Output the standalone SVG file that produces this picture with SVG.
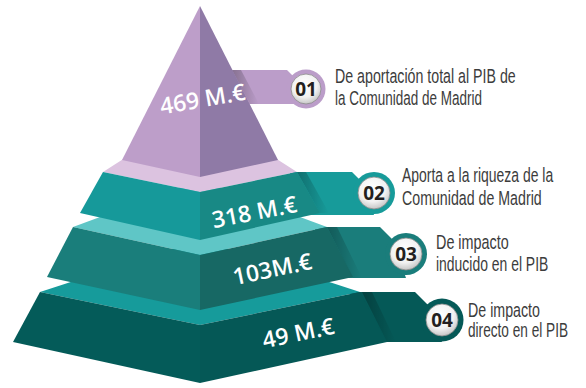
<svg xmlns="http://www.w3.org/2000/svg" width="586" height="388" viewBox="0 0 586 388">
<defs>
<radialGradient id="btn" cx="0.45" cy="0.35" r="0.7">
<stop offset="0" stop-color="#ffffff"/>
<stop offset="0.6" stop-color="#f2f2f2"/>
<stop offset="1" stop-color="#bdbdbd"/>
</radialGradient>
<linearGradient id="shade" x1="0" y1="0" x2="1" y2="0">
<stop offset="0" stop-color="#000" stop-opacity="0.28"/>
<stop offset="1" stop-color="#000" stop-opacity="0"/>
</linearGradient>
</defs>
<style>
.val{font-family:"Open Sans","Liberation Sans",sans-serif;font-weight:600;font-size:23px;fill:#ffffff;text-anchor:middle}
.num{font-family:"Open Sans","Liberation Sans",sans-serif;font-weight:700;font-size:19px;fill:#231f20;text-anchor:middle}
.lbl{font-family:"Liberation Sans","DejaVu Sans",sans-serif;font-size:19.5px;fill:#3c3c3c}
.inner{fill:url(#btn);stroke:#8a8a8a;stroke-width:0.8}
.sh{fill:url(#shade)}
</style>

<g id="connectors">
<polygon points="350,292 415,292 428,305 442,342 350,342" fill="#055957"/>
<polygon points="362,292 372,292 396,342 387,342" class="sh"/>
<polygon points="315,227 380,227 393,240 406,278 315,278" fill="#1a7d7b"/>
<polygon points="327,227 337,227 362,278 353,278" class="sh"/>
<polygon points="290,172 352,172 364,184 374,215 290,215" fill="#179b9a"/>
<polygon points="297,172 306,172 329,213 320,213" class="sh"/>
<polygon points="222,70 287,70 297,80 306,104 222,104" fill="#bb9dc9"/>
<polygon points="232,70 241,70 259,104 250,104" class="sh"/>
</g>

<g id="tier4">
<polygon points="40,292 200,240 360,292 200,325" fill="#169b9b"/>
<polygon points="40,292 200,325 200,383 13,342" fill="#045b59"/>
<polygon points="200,325 360,292 387,342 200,383" fill="#055856"/>
<text class="val" transform="translate(300,341) rotate(-12)">49 M.€</text>
</g>

<g id="tier3">
<polygon points="73,227 200,180 327,227 200,255" fill="#5fc6c6"/>
<polygon points="73,227 200,255 200,310 47,277" fill="#1a7e7b"/>
<polygon points="200,255 327,227 353,277 200,310" fill="#176864"/>
<text class="val" transform="translate(274,277) rotate(-12)">103M.€</text>
</g>

<g id="tier2">
<polygon points="103,172 200,110 297,172 200,192" fill="#dcc3e0"/>
<polygon points="103,172 200,192 200,240 80,213" fill="#16999a"/>
<polygon points="200,192 297,172 320,213 200,240" fill="#188985"/>
<text class="val" transform="translate(256,220) rotate(-11)">318 M.€</text>
</g>

<g id="tier1">
<polygon points="200,6 122,160 200,177" fill="#bd9ec9"/>
<polygon points="200,6 200,177 278,160" fill="#8f7aa6"/>
<text class="val" transform="translate(204,107) rotate(-10)">469 M.€</text>
</g>

<g id="badge1">
<circle cx="306" cy="89" r="19.5" fill="#bb9dc9"/>
<circle cx="306" cy="89" r="15" class="inner"/>
<text class="num" x="306" y="96">01</text>
<text class="lbl" transform="translate(335,83) scale(0.72,1)" textLength="251" lengthAdjust="spacingAndGlyphs">De aportación total al PIB de</text>
<text class="lbl" transform="translate(335,105) scale(0.72,1)" textLength="204" lengthAdjust="spacingAndGlyphs">la Comunidad de Madrid</text>
</g>

<g id="badge2">
<circle cx="374" cy="193" r="21" fill="#179b9a"/>
<circle cx="374" cy="193" r="16" class="inner"/>
<text class="num" x="374" y="200">02</text>
<text class="lbl" transform="translate(402,182) scale(0.72,1)" textLength="210" lengthAdjust="spacingAndGlyphs">Aporta a la riqueza de la</text>
<text class="lbl" transform="translate(402,205) scale(0.72,1)" textLength="194" lengthAdjust="spacingAndGlyphs">Comunidad de Madrid</text>
</g>

<g id="badge3">
<circle cx="406" cy="254" r="21" fill="#1a7d7b"/>
<circle cx="406" cy="254" r="16" class="inner"/>
<text class="num" x="406" y="261">03</text>
<text class="lbl" transform="translate(436,249) scale(0.72,1)" textLength="101" lengthAdjust="spacingAndGlyphs">De impacto</text>
<text class="lbl" transform="translate(436,271) scale(0.72,1)" textLength="156" lengthAdjust="spacingAndGlyphs">inducido en el PIB</text>
</g>

<g id="badge4">
<circle cx="442" cy="320" r="21.5" fill="#055957"/>
<circle cx="442" cy="320" r="16" class="inner"/>
<text class="num" x="442" y="327">04</text>
<text class="lbl" transform="translate(468,317) scale(0.72,1)" textLength="100" lengthAdjust="spacingAndGlyphs">De impacto</text>
<text class="lbl" transform="translate(468,337) scale(0.72,1)" textLength="139" lengthAdjust="spacingAndGlyphs">directo en el PIB</text>
</g>
</svg>
